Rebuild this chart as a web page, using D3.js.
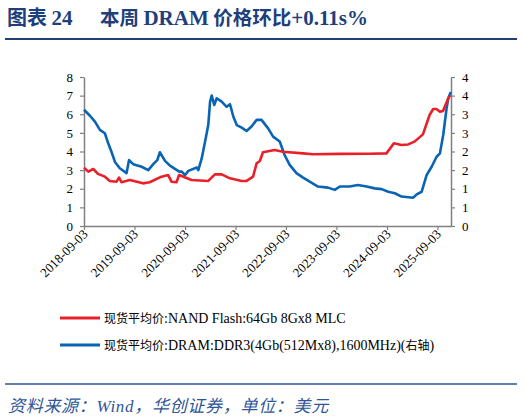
<!DOCTYPE html>
<html>
<head>
<meta charset="utf-8">
<script src="https://cdn.jsdelivr.net/npm/d3@7"></script>
<style>
  body { margin: 0; background: #fff; }
  svg { display: block; }
  .tick text { font-family: "Liberation Serif", "Times New Roman", serif; font-size: 13px; fill: #000; }
</style>
</head>
<body>
<svg id="chart" width="524" height="419"></svg>
<script>
// NAND Flash 64Gb 8Gx8 MLC, left axis
var nandDates = ["2018-09-03","2018-10-04","2018-11-09","2018-12-13","2019-02-01","2019-03-09","2019-04-26",
  "2019-05-15","2019-06-01","2019-07-31","2019-11-04","2019-12-22","2020-03-17","2020-05-03","2020-05-28",
  "2020-07-03","2020-07-22","2020-10-20","2021-02-18","2021-04-07","2021-05-26","2021-07-25","2021-10-18",
  "2021-11-22","2022-01-08","2022-02-03","2022-02-26","2022-03-21","2022-06-13","2022-08-13","2023-01-05",
  "2023-03-17","2023-09-28","2024-05-01","2024-08-30","2024-10-23","2024-12-17","2025-02-03","2025-03-21",
  "2025-05-21","2025-07-08","2025-08-03","2025-08-26","2025-09-21","2025-10-13","2025-10-31","2025-11-20",
  "2025-12-03"];
var nandValues = [3.13,2.92,3.06,2.8,2.65,2.42,2.38,
  2.6,2.35,2.47,2.29,2.35,2.65,2.74,2.38,
  2.35,2.74,2.47,2.42,2.77,2.77,2.56,2.42,
  2.42,2.65,3.37,3.49,3.96,4.08,3.99,3.9,
  3.85,3.87,3.88,3.9,4.44,4.35,4.38,4.53,
  4.92,5.96,6.28,6.28,6.14,6.17,6.5,6.85,
  7.0];

// DRAM DDR3 4Gb 512Mx8 1600MHz, right axis
var dramDates = ["2018-09-03","2018-10-16","2018-11-21","2018-12-27","2019-02-01","2019-02-25","2019-03-20",
  "2019-04-15","2019-05-20","2019-07-08","2019-07-26","2019-08-25","2019-10-25","2019-12-12","2020-01-17",
  "2020-02-15","2020-03-05","2020-04-11","2020-05-17","2020-07-23","2020-08-10","2020-09-03","2020-09-27",
  "2020-11-27","2020-12-08","2021-01-02","2021-01-26","2021-02-18","2021-03-03","2021-03-15","2021-04-02",
  "2021-04-20","2021-05-26","2021-07-01","2021-07-25","2021-08-18","2021-09-12","2021-10-18","2021-11-22",
  "2021-12-28","2022-02-03","2022-03-10","2022-04-27","2022-06-02","2022-07-20","2022-08-25","2022-09-30",
  "2022-11-18","2023-01-05","2023-02-22","2023-04-23","2023-07-04","2023-08-22","2023-09-28","2023-12-08",
  "2024-02-06","2024-04-08","2024-06-07","2024-07-26","2024-09-12","2024-10-30","2024-12-17","2025-03-12",
  "2025-04-06","2025-05-12","2025-06-17","2025-07-23","2025-08-28","2025-09-21","2025-10-15","2025-11-08",
  "2025-11-20","2025-12-09"];
var dramValues = [3.12,2.96,2.8,2.58,2.49,2.22,2.0,
  1.72,1.55,1.42,1.77,1.66,1.59,1.5,1.66,
  1.77,1.98,1.75,1.62,1.46,1.46,1.37,1.48,
  1.57,1.5,1.82,2.27,2.71,3.34,3.5,3.25,
  3.43,3.34,3.2,3.27,2.94,2.71,2.64,2.55,
  2.67,2.85,2.85,2.62,2.4,2.27,1.9,1.64,
  1.42,1.3,1.19,1.06,1.03,0.97,1.06,1.06,
  1.1,1.06,1.01,0.99,0.92,0.88,0.79,0.76,
  0.85,0.92,1.37,1.59,1.86,1.95,2.45,3.16,
  3.43,3.6];

var xTickDates = ["2018-09-03","2019-09-03","2020-09-03","2021-09-03","2022-09-03","2023-09-03","2024-09-03","2025-09-03"];
var leftTicks = [0,1,2,3,4,5,6,7,8];
var rightTicks = [0,0.5,1,1.5,2,2.5,3,3.5,4];

// [text, isLatin]
var titleLead = [["图表 ", false], ["24", true]];
var titleMain = [["本周 ", false], ["DRAM", true], [" 价格环比", false], ["+0.11s%", true]];
var nandLabel = [["现货平均价", false], [":NAND Flash:64Gb 8Gx8 MLC", true]];
var dramLabel = [["现货平均价", false], [":DRAM:DDR3(4Gb(512Mx8),1600MHz)(", true], ["右轴", false], [")", true]];
var sourceText = "资料来源：Wind，华创证券，单位：美元";

var parse = d3.timeParse("%Y-%m-%d");
var svg = d3.select("#chart");

var red = "#E8202A", blue = "#0A64B4", navy = "#1F3F7A", axisGray = "#808080";
var latinFont = "'Liberation Serif', 'Times New Roman', serif";
var cjkFont = "'Noto Sans CJK SC', sans-serif";
var plot = { left: 84, right: 451, top: 77, bottom: 226 };

var x = d3.scaleTime()
  .domain([parse("2018-09-03"), parse("2025-12-10")])
  .range([plot.left, plot.right]);
var yL = d3.scaleLinear().domain([0, 8]).range([plot.bottom, plot.top]);
var yR = d3.scaleLinear().domain([0, 4]).range([plot.bottom, plot.top]);

// mixed latin / cjk text
var mixedText = function(sel, parts, latinSize, cjkSize) {
  sel.attr("xml:space", "preserve");
  sel.selectAll("tspan").data(parts).enter().append("tspan")
    .attr("font-family", function(d) { return d[1] ? latinFont : cjkFont; })
    .attr("font-size", function(d) { return d[1] ? latinSize : cjkSize; })
    .text(function(d) { return d[0]; });
};

// title + rules
svg.append("text").attr("x", 7).attr("y", 25)
  .attr("font-weight", "bold").attr("fill", navy)
  .call(mixedText, titleLead, 21, 20);
svg.append("text").attr("x", 100).attr("y", 25)
  .attr("font-weight", "bold").attr("fill", navy)
  .call(mixedText, titleMain, 21, 19.5);
svg.append("line").attr("x1", 5).attr("x2", 517).attr("y1", 39).attr("y2", 39)
  .attr("stroke", navy).attr("stroke-width", 2);

// axes
var styleAxis = function(g) {
  g.select(".domain").attr("stroke", axisGray).attr("stroke-width", 1.5);
  g.selectAll(".tick line").attr("stroke", axisGray).attr("stroke-width", 1.2);
};

svg.append("g")
  .attr("transform", "translate(" + plot.left + ",0)")
  .call(d3.axisLeft(yL).tickValues(leftTicks).tickSize(4).tickSizeOuter(0).tickPadding(7).tickFormat(d3.format("d")))
  .call(styleAxis);

svg.append("g")
  .attr("transform", "translate(" + plot.right + ",0)")
  .call(d3.axisRight(yR).tickValues(rightTicks).tickSize(4).tickSizeOuter(0).tickPadding(7)
    .tickFormat(function(d) { return Math.round(d + 1e-9); }))
  .call(styleAxis);

var xAxis = svg.append("g")
  .attr("transform", "translate(0," + plot.bottom + ")")
  .call(d3.axisBottom(x).tickValues(xTickDates.map(parse)).tickSize(4).tickSizeOuter(0)
    .tickFormat(d3.timeFormat("%Y-%m-%d")))
  .call(styleAxis);
xAxis.selectAll(".tick text")
  .attr("text-anchor", "end")
  .attr("dy", null)
  .attr("y", 0)
  .attr("transform", "translate(4,9) rotate(-45)");

// series
var nandData = nandDates.map(function(d, i) { return { date: parse(d), value: nandValues[i] }; });
var dramData = dramDates.map(function(d, i) { return { date: parse(d), value: dramValues[i] }; });

var lineL = d3.line().x(function(d) { return x(d.date); }).y(function(d) { return yL(d.value); });
var lineR = d3.line().x(function(d) { return x(d.date); }).y(function(d) { return yR(d.value); });

svg.append("path").datum(dramData)
  .attr("d", lineR).attr("fill", "none").attr("stroke", blue)
  .attr("stroke-width", 2.6).attr("stroke-linejoin", "round");
svg.append("path").datum(nandData)
  .attr("d", lineL).attr("fill", "none").attr("stroke", red)
  .attr("stroke-width", 2.6).attr("stroke-linejoin", "round");

// legend
var legend = [
  { parts: nandLabel, color: red, y: 318 },
  { parts: dramLabel, color: blue, y: 345 }
];
var lg = svg.selectAll(".legend").data(legend).enter().append("g").attr("class", "legend");
lg.append("line").attr("x1", 60).attr("x2", 100)
  .attr("y1", function(d) { return d.y; }).attr("y2", function(d) { return d.y; })
  .attr("stroke", function(d) { return d.color; }).attr("stroke-width", 3);
lg.append("text").attr("x", 104).attr("y", function(d) { return d.y + 5; })
  .attr("fill", "#000")
  .each(function(d) { d3.select(this).call(mixedText, d.parts, 14, 12); });

// footer
svg.append("line").attr("x1", 5).attr("x2", 517).attr("y1", 384).attr("y2", 384)
  .attr("stroke", "#2F5597").attr("stroke-width", 1.5);
svg.append("text").attr("x", 8).attr("y", 412)
  .attr("font-family", "'Liberation Serif', 'Noto Sans CJK SC', serif")
  .attr("font-style", "italic").attr("font-size", 17).attr("letter-spacing", 0.7)
  .attr("fill", "#2F5597")
  .text(sourceText);
</script>
</body>
</html>
